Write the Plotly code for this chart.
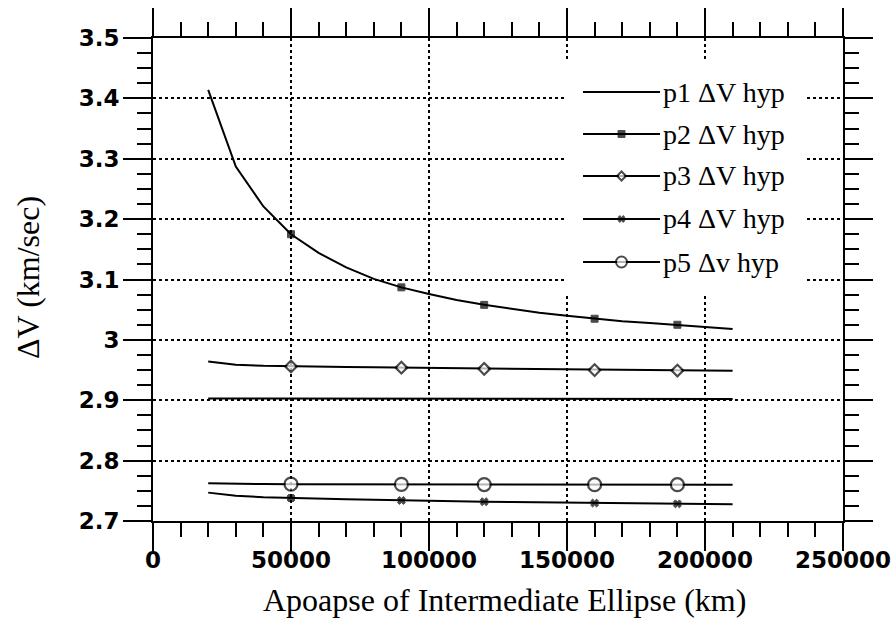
import plotly.graph_objects as go

# Apoapse of the intermediate ellipse (km) at which each delta-V was computed
apoapse_km = [20000, 30000, 40000, 50000, 60000, 70000, 80000, 90000, 100000, 110000,
              120000, 130000, 140000, 150000, 160000, 170000, 180000, 190000, 200000, 210000]

# Apoapse values where a symbol is drawn on each curve
symbol_km = [50000, 90000, 120000, 160000, 190000]

# Hyperbolic delta-V (km/sec) for each case
p1_dv = [2.9030, 2.9029, 2.9028, 2.9027, 2.9026, 2.9025, 2.9025, 2.9024, 2.9024, 2.9023,
         2.9023, 2.9022, 2.9022, 2.9022, 2.9021, 2.9021, 2.9021, 2.9020, 2.9020, 2.9020]
p2_dv = [3.414, 3.287, 3.221, 3.175, 3.144, 3.120, 3.101, 3.087, 3.076, 3.066,
         3.058, 3.051, 3.045, 3.040, 3.035, 3.031, 3.028, 3.025, 3.021, 3.018]
p3_dv = [2.9640, 2.9590, 2.9570, 2.9560, 2.9555, 2.9550, 2.9545, 2.9540, 2.9530, 2.9525,
         2.9520, 2.9515, 2.9510, 2.9505, 2.9500, 2.9497, 2.9495, 2.9492, 2.9490, 2.9487]
p4_dv = [2.7470, 2.7420, 2.7395, 2.7380, 2.7370, 2.7360, 2.7350, 2.7340, 2.7333, 2.7327,
         2.7320, 2.7314, 2.7308, 2.7302, 2.7297, 2.7292, 2.7288, 2.7284, 2.7280, 2.7277]
p5_dv = [2.7625, 2.7615, 2.7612, 2.7610, 2.7609, 2.7608, 2.7607, 2.7606, 2.7605, 2.7605,
         2.7604, 2.7604, 2.7603, 2.7603, 2.7602, 2.7602, 2.7601, 2.7601, 2.7600, 2.7600]

legend_labels = ["p1 ΔV hyp", "p2 ΔV hyp", "p3 ΔV hyp", "p4 ΔV hyp", "p5 Δv hyp"]

# symbol style per case: (plotly symbol, size on curve, size in key, fill colour)
styles = [
    (None, 0, 0, "black"),
    ("square", 7, 7, "black"),
    ("diamond", 9, 7, "white"),
    ("x", 7, 6, "black"),
    ("circle", 13, 11, "white"),
]
series = [p1_dv, p2_dv, p3_dv, p4_dv, p5_dv]

SERIF = "Liberation Serif, Times New Roman, serif"
SANS = "DejaVu Sans, Arial, sans-serif"

fig = go.Figure()

for vals, (sym, size, _, fill), name in zip(series, styles, legend_labels):
    if sym is None:
        fig.add_trace(go.Scatter(x=apoapse_km, y=vals, mode="lines", name=name,
                                 line=dict(color="black", width=2), showlegend=False))
    else:
        sizes = [size if x in symbol_km else 0 for x in apoapse_km]
        fig.add_trace(go.Scatter(
            x=apoapse_km, y=vals, mode="lines+markers", name=name, showlegend=False,
            line=dict(color="black", width=2),
            marker=dict(symbol=sym, size=sizes, color=fill,
                        line=dict(color="black", width=2.2 if fill == "white" else 1)),
        ))

# Key: drawn on an overlay axis pair whose [0, 1] range spans the plotting area.
# A white panel goes first so the grid does not show through the key.
box_x0, box_x1, box_y0, box_y1 = 0.597, 0.9464, 0.472, 0.9545
fig.add_trace(go.Scatter(
    x=[box_x0, box_x1, box_x1, box_x0, box_x0], y=[box_y0, box_y0, box_y1, box_y1, box_y0],
    xaxis="x3", yaxis="y3", mode="lines", fill="toself", fillcolor="white",
    line=dict(width=0, color="white"), showlegend=False, hoverinfo="skip",
))

key_x0, key_x1, key_text_x = 0.6232, 0.7348, 0.7363
key_rows = [0.8882, 0.8012, 0.7143, 0.6253, 0.5362]
for row_y, (sym, _, ksize, fill), label in zip(key_rows, styles, legend_labels):
    xm = (key_x0 + key_x1) / 2
    fig.add_trace(go.Scatter(
        x=[key_x0, xm, key_x1], y=[row_y] * 3, xaxis="x3", yaxis="y3",
        mode="lines+markers" if sym else "lines", showlegend=False, hoverinfo="skip",
        line=dict(color="black", width=2),
        marker=dict(symbol=sym or "circle", size=[0, ksize, 0], color=fill,
                    line=dict(color="black", width=2 if fill == "white" else 1)),
    ))
    fig.add_annotation(x=key_text_x, y=row_y, xref="x3", yref="y3", text=label,
                       showarrow=False, xanchor="left", yanchor="middle",
                       font=dict(family=SERIF, size=28, color="black"))

tick_common = dict(
    showline=True, linecolor="black", linewidth=2, mirror="allticks",
    ticks="outside", ticklen=28, tickwidth=2, tickcolor="black",
    showgrid=True, gridcolor="black", gridwidth=2, griddash="dot",
    zeroline=False, ticklabeloverflow="allow", automargin=False,
    tickfont=dict(family=SANS, size=23, color="black", weight="bold"),
)

fig.update_layout(
    width=891, height=630,
    margin=dict(l=153, r=48, t=38, b=109),
    paper_bgcolor="white", plot_bgcolor="white",
    xaxis=dict(range=[0, 250000], tick0=0, dtick=50000, tickformat="d",
               minor=dict(dtick=10000, tick0=0, ticks="outside", ticklen=14,
                          tickwidth=2, tickcolor="black", showgrid=False),
               ticklabelstandoff=-11, **tick_common),
    yaxis=dict(range=[2.7, 3.5], tick0=2.7, dtick=0.1, tickformat="~g",
               minor=dict(dtick=0.025, tick0=2.7, ticks="outside", ticklen=14,
                          tickwidth=2, tickcolor="black", showgrid=False),
               ticklabelstandoff=-1, **tick_common),
    xaxis3=dict(range=[0, 1], overlaying="x", visible=False, fixedrange=True),
    yaxis3=dict(range=[0, 1], overlaying="y", visible=False, fixedrange=True),
    showlegend=False,
)

# axis titles
fig.add_annotation(x=0.5101, y=-0.1636, xref="paper", yref="paper",
                   text="Apoapse of Intermediate Ellipse (km)", showarrow=False,
                   xanchor="center", yanchor="middle",
                   font=dict(family=SERIF, size=32, color="black"))
fig.add_annotation(x=-0.1812, y=0.5052, xref="paper", yref="paper",
                   text="ΔV (km/sec)", showarrow=False, textangle=-90,
                   xanchor="center", yanchor="middle",
                   font=dict(family=SERIF, size=32, color="black"))

fig.write_html("out.html")
